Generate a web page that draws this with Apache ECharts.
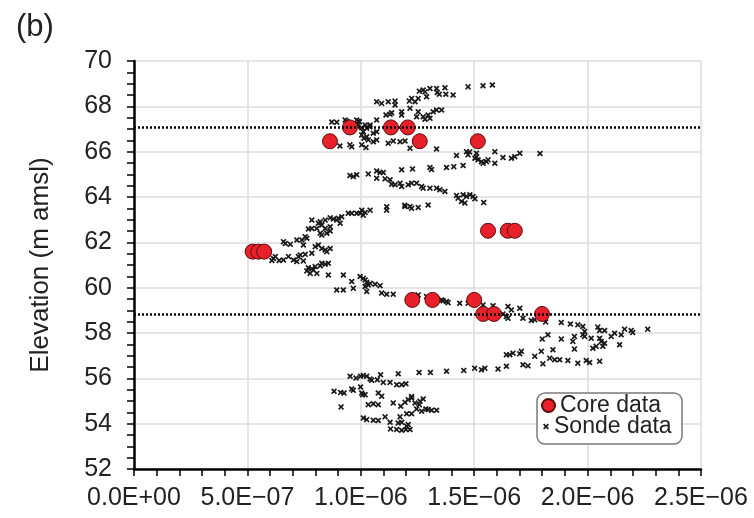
<!DOCTYPE html>
<html>
<head>
<meta charset="utf-8">
<script src="https://cdn.jsdelivr.net/npm/echarts@6/dist/echarts.min.js"></script>
<style>
html, body { margin: 0; padding: 0; background: #fff; }
#chart { width: 754px; height: 518px; }
</style>
</head>
<body>
<div id="chart"></div>
<script>
// x values are in units of 1E-06 (axis labels convert them back)
var coreX = [0.864, 0.952, 1.133, 1.207, 1.260, 1.516, 1.561, 1.648, 1.679, 0.523, 0.548, 0.574, 1.227, 1.316, 1.500, 1.540, 1.587, 1.799];
var coreY = [66.46, 67.07, 67.07, 67.07, 66.46, 66.46, 62.51, 62.51, 62.51, 61.59, 61.59, 61.59, 59.46, 59.46, 59.46, 58.84, 58.84, 58.84];

var sondeUpper = [
  [1.473,68.86],[1.539,68.91],[1.580,68.94],[1.258,68.67],[1.275,68.72],[1.283,68.64],[1.305,68.79],[1.334,68.79],
  [1.337,68.61],[1.346,68.53],[1.371,68.82],[1.375,68.53],[1.407,68.50],[1.290,68.42],[1.253,68.35],[1.224,68.35],
  [1.214,68.23],[1.239,68.20],[1.151,68.23],[1.121,68.20],[1.070,68.20],[1.092,68.13],[1.151,68.06],[1.334,67.84],
  [1.319,67.76],[1.356,67.84],[1.297,67.62],[1.253,67.76],[1.217,67.91],[1.180,67.76],[1.136,67.72],[1.129,67.65],
  [1.111,67.62],[1.180,67.62],[1.246,67.54],[1.275,67.54],[1.283,67.43],[1.305,67.47],[1.070,67.40],
  [0.872,67.31],[0.894,67.30],[0.938,67.34],[0.989,67.34],[0.931,67.40],[0.938,67.18],[0.982,67.40],[0.994,67.32],
  [0.989,67.18],[1.004,67.06],[1.019,67.18],[1.026,67.03],[1.041,67.18],[1.011,66.88],[1.004,66.74],[1.014,66.59],
  [1.026,66.66],[1.055,66.81],[1.070,66.88],[1.070,66.52],[1.033,66.52],[0.908,66.25],[0.952,66.30],[0.960,66.22],
  [1.004,66.30],[1.023,66.18],[1.055,66.44],[1.121,66.37],[1.143,66.47],[1.173,66.44],[1.195,66.47],[1.217,66.15],
  [1.334,66.12],[1.040,67.10],[0.965,67.20],
  [1.422,65.83],[1.466,66.00],[1.473,65.86],[1.510,65.93],[1.503,65.71],[1.517,65.64],[1.532,65.56],[1.539,65.49],
  [1.554,65.56],[1.561,65.64],[1.591,66.00],[1.627,65.74],[1.591,65.49],[1.664,65.71],[1.679,65.78],[1.701,65.93],
  [1.790,65.92],[1.480,65.99],[1.510,65.77],
  [1.180,65.20],[1.228,65.24],[1.305,65.30],[1.378,65.30],[1.410,65.34],[1.451,65.39],[1.312,65.21],[0.952,64.95],
  [0.967,64.90],[0.982,64.98],[1.033,65.02],[1.070,65.15],[1.085,65.08],[1.099,65.08],[1.070,64.83],[1.107,64.80],
  [1.129,64.76],[1.136,64.56],[1.151,64.54],[1.173,64.61],[1.180,64.46],[1.209,64.54],[1.224,64.61],[1.246,64.61],
  [1.268,64.46],[1.275,64.39],[1.305,64.39],[1.334,64.39],[1.349,64.32],[1.371,64.24],
  [1.422,64.07],[1.429,63.95],[1.451,64.10],[1.466,64.02],[1.481,64.10],[1.495,64.02],[1.503,63.92],[1.444,63.80],
  [1.459,63.73],[1.542,63.76],[1.195,63.58],[1.217,63.58],[1.253,63.54],[1.297,63.65],[1.114,63.57],[1.194,63.64]
];

var sondeMiddle = [
  [1.224,63.50],[1.114,63.42],[1.041,63.42],[1.004,63.42],[1.019,63.32],[1.011,63.20],[0.997,63.28],[0.982,63.28],
  [0.960,63.28],[0.945,63.28],[0.916,63.13],[0.901,63.06],[0.894,62.98],[0.865,63.08],[0.879,63.03],[0.909,62.84],
  [0.843,62.98],[0.821,62.91],[0.813,62.84],[0.828,62.76],[0.784,62.98],[0.865,62.69],[0.843,62.61],[0.865,62.50],
  [0.850,62.40],[0.821,62.40],[0.828,62.32],[0.784,62.61],[0.769,62.59],[0.806,62.61],[0.755,62.25],[0.762,62.18],
  [0.740,62.10],[0.718,62.10],[0.747,61.88],[0.689,61.91],[0.659,62.03],[0.667,61.95],
  [0.799,61.81],[0.813,61.88],[0.828,61.73],[0.843,61.66],[0.850,61.59],[0.865,61.73],[0.784,61.52],[0.755,61.47],
  [0.733,61.44],[0.725,61.37],[0.703,61.22],[0.681,61.37],[0.718,61.15],[0.747,61.18],[0.659,61.22],[0.615,61.29],
  [0.623,61.37],[0.608,61.20],[0.640,61.20],
  [0.769,60.88],[0.784,60.83],[0.791,60.78],[0.762,60.74],[0.799,60.93],[0.821,60.97],[0.828,61.08],[0.843,61.03],
  [0.857,61.08],[0.806,60.63],[0.777,60.63],[0.857,60.56],[0.923,60.56],
  [0.997,60.49],[1.011,60.41],[1.019,60.34],[1.026,60.24],[1.033,60.12],[1.019,60.05],[1.041,60.19],[1.063,60.15],
  [1.085,60.09],[1.026,59.83],[1.092,59.76],[1.114,59.71],[1.143,59.71],[0.967,59.97],[0.960,60.27],[0.923,59.90],
  [0.894,59.90],[1.253,59.68],[1.290,59.61],[1.334,59.50],[1.356,59.46],[1.378,59.39]
];

var sondeLower = [
  [1.363,59.42],[1.385,59.34],[1.436,59.31],[1.473,59.31],[1.539,59.24],[1.583,59.20],[1.649,59.17],[1.664,59.02],
  [1.701,59.09],[1.627,58.84],[1.642,58.73],[1.649,58.65],[1.715,58.65],[1.752,58.55],[1.767,58.58],[1.815,58.49],
  [1.884,58.46],[1.924,58.40],[1.957,58.36],[1.979,58.29],[1.987,58.07],[2.045,58.26],[2.053,58.11],[2.075,58.11],
  [2.163,58.17],[2.192,58.11],[2.199,58.02],[2.265,58.17],[2.119,57.99],[2.104,57.85],[2.148,57.92],[2.141,57.48],
  [2.053,57.77],[2.060,57.63],[2.075,57.55],[2.038,57.41],[2.023,57.33],[2.067,57.41],[2.016,57.77],[1.979,57.92],
  [1.987,57.85],[1.942,57.85],[1.935,57.63],[1.942,57.29],[1.884,57.73],[1.825,57.92],[1.800,57.73],[1.796,57.19],
  [1.847,57.26],[1.767,56.97],[1.708,57.19],[1.701,57.08],[1.657,57.04],[1.642,57.04],[1.671,57.11],[1.833,56.89],
  [1.855,56.82],[1.877,56.82],[1.913,56.79],[1.957,56.67],[1.994,56.79],[2.009,56.70],[2.053,56.75],[1.803,56.64],
  [1.715,56.60],[1.737,56.55],[1.642,56.53],[1.605,56.41],[1.547,56.45],[1.532,56.38],[1.502,56.45],[1.454,56.35],
  [1.378,56.31],[1.165,56.20],[1.257,56.26],[1.307,56.26]
];

var sondeBottom = [
  [0.953,56.09],[0.979,56.01],[0.999,56.09],[1.011,56.12],[1.026,56.09],[1.041,55.97],[1.048,55.91],[1.073,55.94],
  [1.087,56.16],[1.099,55.82],[1.129,55.82],[1.158,55.72],[1.180,55.72],[1.199,55.76],
  [0.882,55.43],[0.911,55.38],[0.926,55.35],[0.960,55.53],[0.967,55.47],[1.004,55.35],[1.008,55.28],[1.019,55.28],
  [0.999,55.62],[1.077,55.35],[1.092,55.21],[0.913,54.74],[1.033,54.84],[1.055,54.88],[1.077,54.84],[1.143,54.91],
  [1.176,54.77],[1.195,54.94],[1.209,55.06],[1.224,55.13],[1.239,54.91],[1.261,54.99],[1.275,55.09],[1.258,54.84],
  [1.202,54.44],[1.224,54.44],[1.246,54.65],[1.268,54.55],[1.287,54.65],[1.312,54.59],[1.334,54.59],[1.011,54.25],
  [1.026,54.18],[1.055,54.15],[1.077,54.14],[1.107,54.30],[1.129,54.06],[1.173,54.30],[1.165,54.03],[1.180,54.06],
  [1.209,53.96],[1.217,53.74],[1.199,53.74],[1.180,53.71],[1.158,53.74],[1.131,53.77],[1.202,53.89],[1.224,55.20],
  [1.297,54.62]
];

// dotted reference levels (m amsl)
var refLevels = [67.07, 58.84];

var FONT = '"Liberation Sans", Arial, Helvetica, sans-serif';
var TXT = '#222';
var crossIcon = 'path://M0,2L2,0L5,3L8,0L10,2L7,5L10,8L8,10L5,7L2,10L0,8L3,5Z';

function sciLabel(v) {
    if (v === 0) return '0.0E+00';
    var real = v * 1e-6;
    var exp = Math.floor(Math.log10(real) + 1e-9);
    var mant = real / Math.pow(10, exp);
    var e = Math.abs(exp);
    return mant.toFixed(1) + 'E' + (exp < 0 ? '\u2212' : '+') + (e < 10 ? '0' + e : '' + e);
}

var coreData = coreX.map(function (x, i) { return [x, coreY[i]]; });
var sondeData = sondeUpper.concat(sondeMiddle, sondeLower, sondeBottom);

var chart = echarts.init(document.getElementById('chart'));
chart.setOption({
    animation: false,
    backgroundColor: '#fff',
    title: {
        text: '(b)', left: 11, top: 7,
        textStyle: { fontSize: 31, fontWeight: 'normal', color: TXT, fontFamily: FONT }
    },
    grid: { left: 134, right: 53, top: 61, bottom: 49 },
    xAxis: {
        type: 'value', min: 0, max: 2.5, interval: 0.5,
        axisLine: { show: true, onZero: false, lineStyle: { color: '#000', width: 2.5 } },
        axisTick: { show: true, length: 7, lineStyle: { color: '#000', width: 1.5 } },
        minorTick: { show: true, splitNumber: 5, length: 7, lineStyle: { color: '#000', width: 1.5 } },
        splitLine: { show: true, lineStyle: { color: '#dcdcdc', width: 1.5 } },
        axisLabel: { formatter: sciLabel, fontSize: 25, color: TXT, fontFamily: FONT, margin: 17 }
    },
    yAxis: {
        type: 'value', min: 52, max: 70, interval: 2,
        name: 'Elevation (m amsl)', nameLocation: 'middle', nameGap: 80,
        nameTextStyle: { fontSize: 26, color: TXT, fontFamily: FONT },
        axisLine: { show: true, onZero: false, lineStyle: { color: '#000', width: 2.5 } },
        axisTick: { show: true, length: 7, lineStyle: { color: '#000', width: 1.5 } },
        minorTick: { show: true, splitNumber: 4, length: 7, lineStyle: { color: '#000', width: 1.5 } },
        splitLine: { show: true, lineStyle: { color: '#dcdcdc', width: 1.5 } },
        axisLabel: { fontSize: 25, color: TXT, fontFamily: FONT, margin: 22 }
    },
    legend: [
        {
            data: [{ name: 'Core data', icon: 'circle' }],
            left: 541, top: 394, padding: 0, itemWidth: 13, itemHeight: 13, z: 10,
            textStyle: { fontSize: 23, color: TXT, fontFamily: FONT }
        },
        {
            data: [{ name: 'Sonde data', icon: crossIcon }],
            left: 543, top: 415, padding: 0, itemWidth: 6, itemHeight: 6, z: 10,
            textStyle: { fontSize: 23, color: TXT, fontFamily: FONT }
        }
    ],
    graphic: [{
        type: 'rect', z: 9,
        shape: { x: 537, y: 393, width: 145, height: 51, r: 8 },
        style: { fill: '#fff', stroke: '#7a7a7a', lineWidth: 1.5 }
    }],
    series: [
        {
            name: 'Sonde data', type: 'scatter', z: 2,
            symbol: crossIcon, symbolSize: 6,
            itemStyle: { color: '#1a1a1a', opacity: 1 },
            data: sondeData,
            markLine: {
                silent: true, symbol: 'none', label: { show: false },
                lineStyle: { color: '#000', type: [2, 2], width: 2.5 },
                data: refLevels.map(function (v) { return { yAxis: v }; })
            }
        },
        {
            name: 'Core data', type: 'scatter', z: 3,
            symbol: 'circle', symbolSize: 15,
            itemStyle: { color: '#e8202a', borderColor: '#5a0c0c', borderWidth: 1, opacity: 1 },
            data: coreData
        }
    ]
});
</script>
</body>
</html>
